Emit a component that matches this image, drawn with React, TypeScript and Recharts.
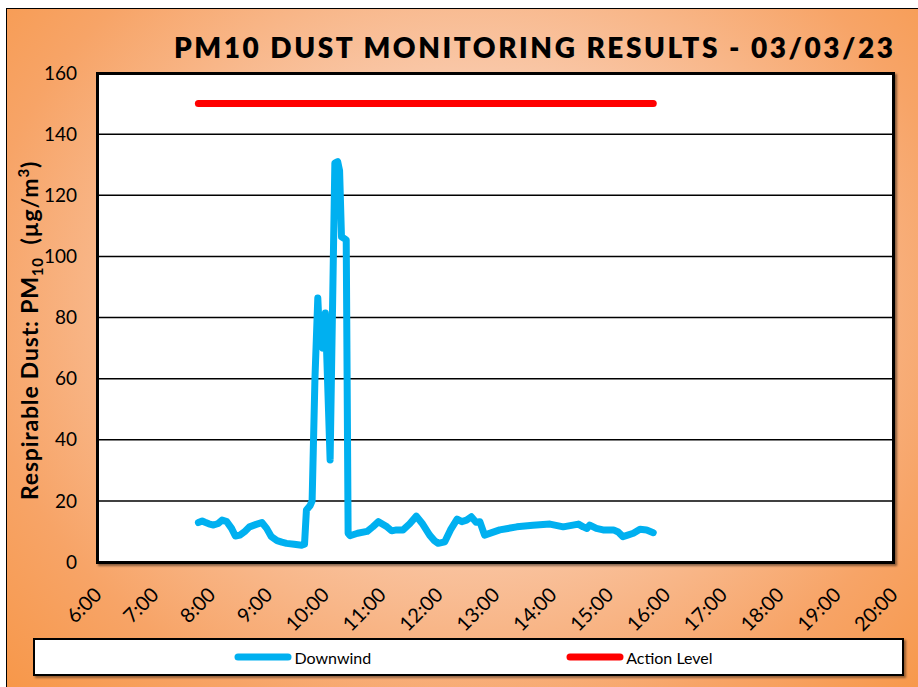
import React from "react";
import {
  LineChart,
  Line,
  XAxis,
  YAxis,
  CartesianGrid,
  Legend,
} from "recharts";

// readings (time of day, PM10 ug/m3)
const times = [
  "7:47", "7:51", "7:54", "7:58", "8:03", "8:08", "8:12", "8:17", "8:22", "8:26",
  "8:31", "8:36", "8:41", "8:48", "8:54", "8:59", "9:04", "9:10", "9:15", "9:20",
  "9:28", "9:36", "9:39", "9:41", "9:45", "9:47", "9:50", "9:53", "9:55", "9:58",
  "10:01", "10:06", "10:11", "10:14", "10:16", "10:18", "10:23", "10:25", "10:27", "10:35",
  "10:45", "10:51", "10:57", "11:06", "11:11", "11:16", "11:23", "11:30", "11:37", "11:43",
  "11:51", "11:56", "12:00", "12:07", "12:13", "12:20", "12:25", "12:30", "12:35", "12:40",
  "12:44", "12:49", "13:05", "13:23", "13:40", "13:58", "14:12", "14:28", "14:33", "14:37",
  "14:40", "14:47", "14:54", "15:05", "15:10", "15:15", "15:20", "15:26", "15:33", "15:40",
  "15:47",
];
const downwind = [
  12.9, 13.4, 13.0, 12.5, 12.1, 12.6, 13.7, 13.2, 11.0, 8.5,
  8.8, 10.0, 11.5, 12.3, 12.9, 11.0, 8.3, 7.0, 6.5, 6.1,
  5.8, 5.5, 5.8, 17.0, 18.5, 20.0, 60, 86.4, 72.6, 70,
  81.5, 33.4, 130.5, 131, 128, 106.4, 105.4, 9.4, 8.6, 9.4,
  10.0, 11.5, 13.2, 11.5, 10.2, 10.5, 10.5, 12.5, 15.0, 12.7,
  8.8, 7.0, 6.1, 6.6, 10.5, 14.0, 13.2, 13.7, 14.8, 13.0,
  13.2, 8.8, 10.5, 11.5, 12.0, 12.4, 11.5, 12.4, 11.5, 11.0,
  12.1, 11.0, 10.5, 10.5, 9.8, 8.3, 8.8, 9.4, 10.7, 10.5,
  9.6,
];
const actionTimes = ["7:47", "15:47"];
const actionLevel = [150, 150];

const seriesOrder = ["Downwind", "Action Level"];
const hourTicks = [6, 7, 8, 9, 10, 11, 12, 13, 14, 15, 16, 17, 18, 19, 20];
const yTicks = [0, 20, 40, 60, 80, 100, 120, 140, 160];

const toHours = (s: string) => {
  const [h, m] = s.split(":").map(Number);
  return h + m / 60;
};

const downwindData = times.map((t, i) => ({ t: toHours(t), v: downwind[i] }));
const actionData = actionTimes.map((t, i) => ({ t: toHours(t), v: actionLevel[i] }));

const FONT = "Lato, 'Open Sans', sans-serif";

const YLabel = () => (
  <text
    x={38}
    y={500}
    transform="rotate(-90, 38, 500)"
    textAnchor="start"
    fontFamily={FONT}
    fontWeight={700}
    fontSize={23}
    letterSpacing={0.8}
    fill="#000"
  >
    Respirable Dust: PM
    <tspan fontSize={15} dy={5}>10</tspan>
    <tspan dy={-5}>{"\u00a0\u00a0(µg/m"}</tspan>
    <tspan fontSize={15} dy={-9}>3</tspan>
    <tspan dy={9}>)</tspan>
  </text>
);

const LegendBox = (props: any) => {
  const items = [...(props.payload || [])].sort(
    (a: any, b: any) => seriesOrder.indexOf(a.value) - seriesOrder.indexOf(b.value)
  );
  return (
    <div
      style={{
        boxSizing: "border-box",
        width: "100%",
        height: "100%",
        background: "#fff",
        border: "2px solid #000",
        boxShadow: "2px 2px 2px rgba(0,0,0,0.4)",
        display: "flex",
        alignItems: "center",
        justifyContent: "center",
        gap: 195,
        fontFamily: FONT,
        fontSize: 16,
        color: "#000",
        paddingLeft: 10,
      }}
    >
      {items.map((it: any) => (
        <div key={it.value} style={{ display: "flex", alignItems: "center" }}>
          <svg width={58} height={10} style={{ marginRight: 2 }}>
            <line x1={4} y1={5} x2={54} y2={5} stroke={it.color} strokeWidth={7} strokeLinecap="round" />
          </svg>
          <span>{it.value}</span>
        </div>
      ))}
    </div>
  );
};

export default function App() {
  return (
    <div style={{ position: "absolute", left: 0, top: 0, width: 918, height: 687, overflow: "hidden" }}>
      <div
        style={{
          position: "absolute",
          left: 6,
          top: 8,
          width: 930,
          height: 700,
          border: "1.5px solid #000",
          background:
            "radial-gradient(ellipse farthest-corner at 50% 42%, #fde7db 0%, #f9c7a7 40%, #f7a467 75%, #f79646 100%)",
        }}
      />
      <div
        style={{
          position: "absolute",
          left: 95.5,
          top: 71.5,
          width: 799,
          height: 492,
          boxSizing: "border-box",
          background: "#fff",
          border: "3px solid #000",
          boxShadow: "2px 2px 2px rgba(0,0,0,0.45)",
        }}
      />
      <svg style={{ position: "absolute", left: 0, top: 0 }} width={918} height={70}>
        <text
          x={893}
          y={58}
          textAnchor="end"
          fontFamily={FONT}
          fontWeight={800}
          fontSize={28}
          textLength={719}
          lengthAdjust="spacing"
          fill="#000"
        >
          PM10 DUST MONITORING RESULTS - 03/03/23
        </text>
      </svg>
      <div style={{ position: "absolute", left: 0, top: 0 }}>
        <LineChart
          width={918}
          height={687}
          margin={{ top: 73, right: 25, bottom: 65, left: 57 }}
        >
          <CartesianGrid vertical={false} stroke="#000" strokeWidth={1.5} />
          <XAxis
            dataKey="t"
            type="number"
            domain={[6, 20]}
            ticks={hourTicks}
            interval={0}
            tickFormatter={(h: number) => `${h}:00`}
            height={60}
            axisLine={false}
            tickLine={false}
            tickSize={0}
            tickMargin={24}
            angle={-45}
            textAnchor="end"
            tick={{ fontFamily: FONT, fontSize: 20, fill: "#000", dx: -4 }}
          />
          <YAxis
            type="number"
            domain={[0, 160]}
            ticks={yTicks}
            interval={0}
            width={40}
            axisLine={false}
            tickLine={false}
            tickSize={0}
            tickMargin={20}
            tick={{ fontFamily: FONT, fontSize: 19, fill: "#000" }}
            label={<YLabel />}
          />
          <Line
            data={downwindData}
            dataKey="v"
            name="Downwind"
            stroke="#00b0f0"
            strokeWidth={7}
            strokeLinejoin="round"
            strokeLinecap="round"
            dot={false}
            activeDot={false}
            isAnimationActive={false}
          />
          <Line
            data={actionData}
            dataKey="v"
            name="Action Level"
            stroke="#ff0000"
            strokeWidth={7}
            strokeLinecap="round"
            dot={false}
            activeDot={false}
            isAnimationActive={false}
          />
          <Legend
            layout="horizontal"
            verticalAlign="middle"
            align="center"
            content={<LegendBox />}
            wrapperStyle={{ left: 33, top: 638, width: 871, height: 38 }}
          />
        </LineChart>
      </div>
    </div>
  );
}
